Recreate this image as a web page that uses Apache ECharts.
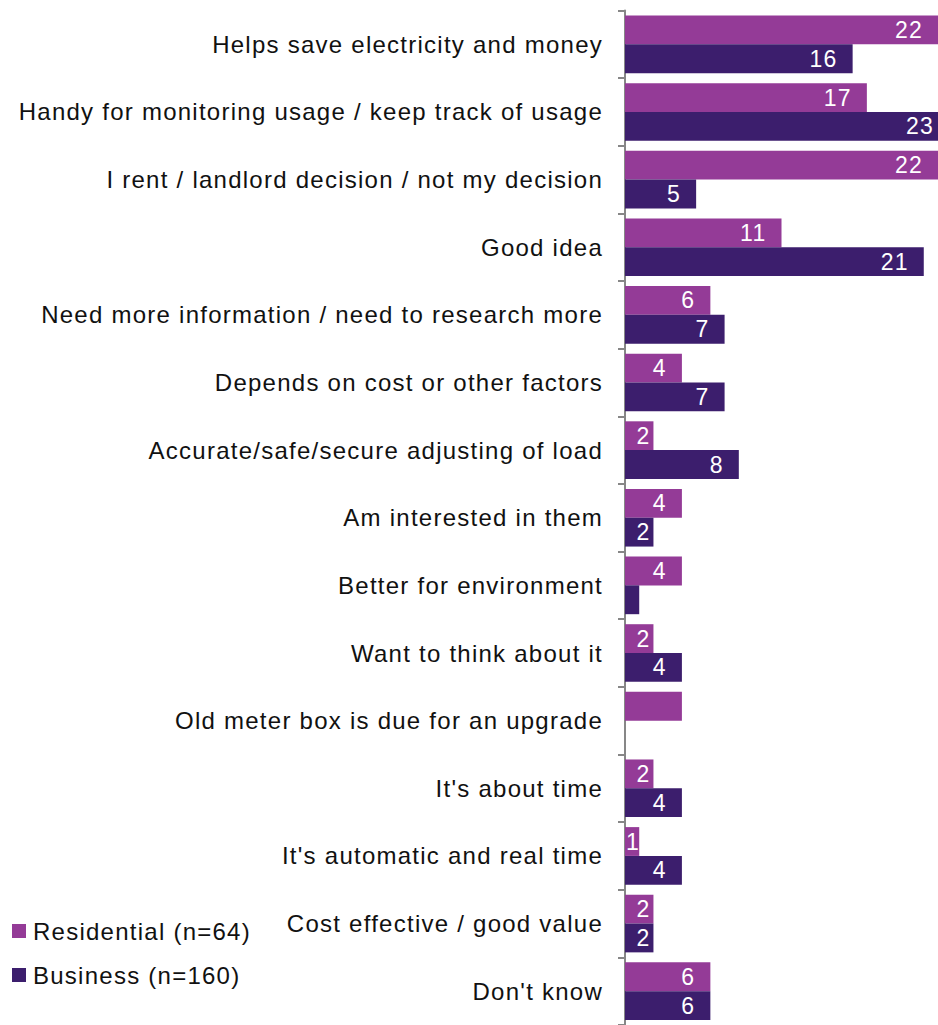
<!DOCTYPE html>
<html>
<head>
<meta charset="utf-8">
<script src="https://cdn.jsdelivr.net/npm/echarts@6/dist/echarts.min.js"></script>
<style>
  html, body { margin: 0; padding: 0; background: #ffffff; }
  #chart { width: 938px; height: 1025px; }
  /* Slightly open tracking on every text run */
  #chart text { letter-spacing: 1.25px; }
</style>
</head>
<body>
<div id="chart"></div>
<script>
// Reasons given, top to bottom
const categories = [
  "Helps save electricity and money",
  "Handy for monitoring usage / keep track of usage",
  "I rent / landlord decision / not my decision",
  "Good idea",
  "Need more information / need to research more",
  "Depends on cost or other factors",
  "Accurate/safe/secure adjusting of load",
  "Am interested in them",
  "Better for environment",
  "Want to think about it",
  "Old meter box is due for an upgrade",
  "It's about time",
  "It's automatic and real time",
  "Cost effective / good value",
  "Don't know"
];

const seriesNames = ["Residential (n=64)", "Business (n=160)"];

// Percent of respondents
const residential = [22, 17, 22, 11, 6, 4, 2, 4, 4, 2, 4, 2, 1, 2, 6];
const business    = [16, 23, 5, 21, 7, 7, 8, 2, 1, 4, null, 4, 4, 2, 6];

// Value labels printed on the bars ("" = no label printed)
const residentialLabels = ["22", "17", "22", "11", "6", "4", "2", "4", "4", "2", "", "2", "1", "2", "6"];
const businessLabels    = ["16", "23", "5", "21", "7", "7", "8", "2", "", "4", "", "4", "4", "2", "6"];

const AXIS_MAX = 22;
const FONT = "'Liberation Sans', Arial, sans-serif";

function barData(values, labels) {
  return values.map((v, i) => {
    const text = labels[i];
    let label;
    if (!text || v == null) {
      label = { show: false };
    } else if (v <= 1) {
      label = { show: true, position: 'insideLeft', distance: 1 };
    } else if (v <= 2) {
      label = { show: true, position: 'insideRight', distance: 3 };
    } else if (v > AXIS_MAX) {
      label = { show: true, position: 'insideRight', distance: 4 };
    } else {
      label = { show: true, position: 'insideRight', distance: 15 };
    }
    label.formatter = text;
    return { value: v, label: label };
  });
}

const chart = echarts.init(document.getElementById('chart'), null, { renderer: 'svg' });

const labelStyle = {
  color: '#ffffff',
  fontFamily: FONT,
  fontSize: 23
};

chart.setOption({
  animation: false,
  backgroundColor: '#ffffff',
  color: ['#943b97', '#3c1e6d'],
  grid: { left: 625, right: 0, top: 10.5, height: 1021.5, containLabel: false },
  legend: {
    orient: 'vertical',
    left: 12,
    top: 919,
    padding: 0,
    icon: 'rect',
    itemWidth: 14,
    itemHeight: 14,
    itemGap: 20,
    data: seriesNames,
    textStyle: {
      color: '#111111',
      fontFamily: FONT,
      fontSize: 24,
      lineHeight: 24,
      padding: [0, 0, 0, 2]
    }
  },
  xAxis: {
    type: 'value',
    min: 0,
    max: AXIS_MAX,
    show: false,
    splitLine: { show: false }
  },
  yAxis: {
    type: 'category',
    inverse: true,
    data: categories,
    axisLine: { show: true, lineStyle: { color: '#878787', width: 2 } },
    axisTick: { show: true, length: 7, lineStyle: { color: '#878787', width: 2 } },
    axisLabel: {
      margin: 22,
      color: '#111111',
      fontFamily: FONT,
      fontSize: 24
    }
  },
  series: [
    {
      name: seriesNames[0],
      type: 'bar',
      barGap: '0%',
      barCategoryGap: '14.8%',
      data: barData(residential, residentialLabels),
      label: labelStyle
    },
    {
      name: seriesNames[1],
      type: 'bar',
      barGap: '0%',
      barCategoryGap: '14.8%',
      data: barData(business, businessLabels),
      label: labelStyle
    }
  ]
});
</script>
</body>
</html>
